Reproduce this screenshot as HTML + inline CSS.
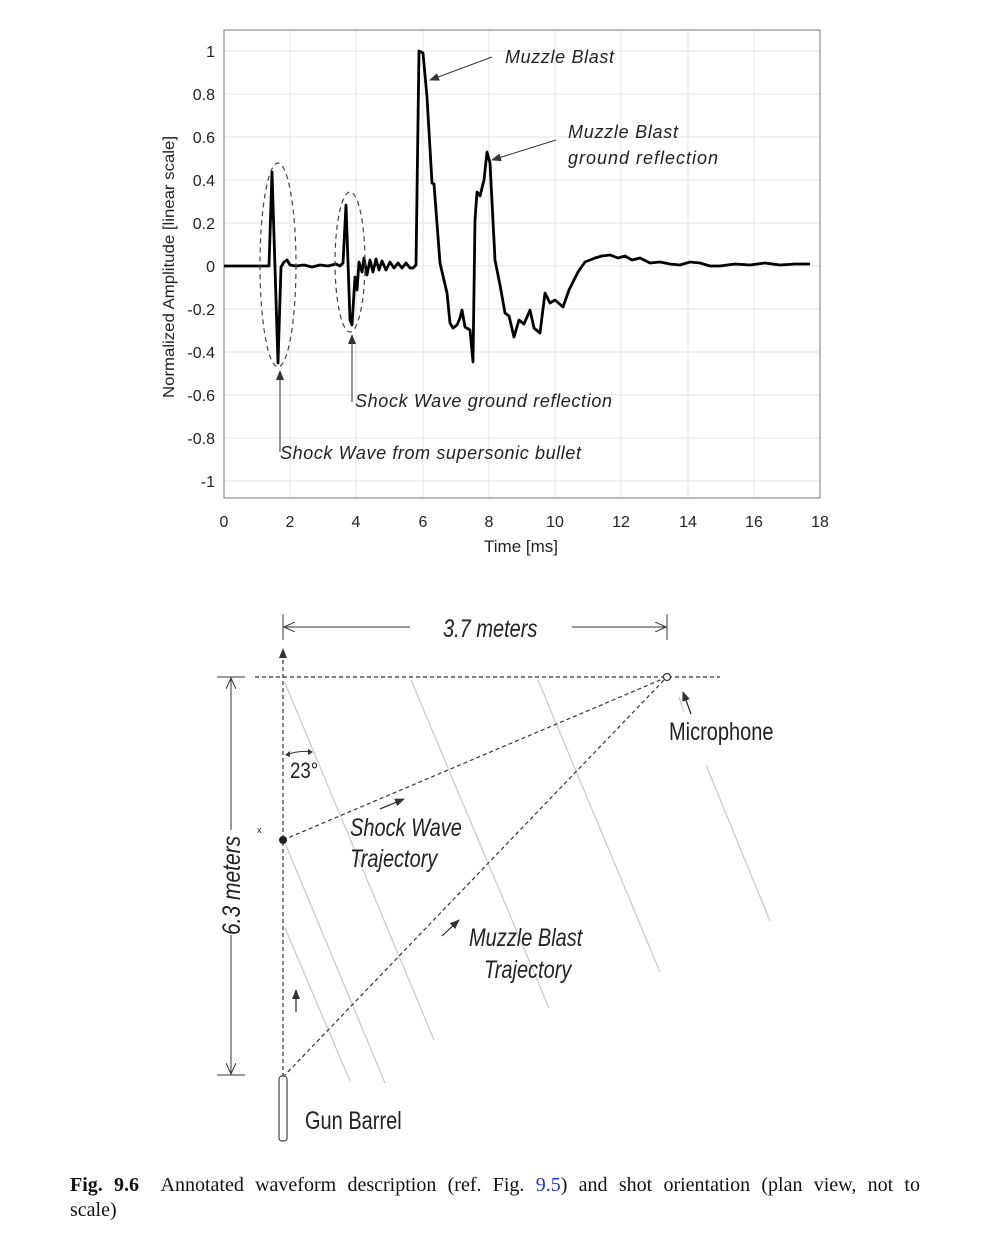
<!DOCTYPE html>
<html><head><meta charset="utf-8"><style>
body{margin:0;background:#fff;width:987px;height:1248px;overflow:hidden;position:relative}
svg{position:absolute;left:0;top:0}
.cap{position:absolute;left:70px;width:850px;font:20px "Liberation Serif",serif;line-height:25px;color:#111}
.l1{top:1173px;text-align:justify;text-align-last:justify}
.l2{top:1198px}
</style></head><body>
<svg width="987" height="1248" viewBox="0 0 987 1248" xmlns="http://www.w3.org/2000/svg">
<defs>
<marker id="ah" markerWidth="10" markerHeight="8" refX="9" refY="4" orient="auto" markerUnits="userSpaceOnUse"><path d="M0,0 L10,4 L0,8 z" fill="#333"/></marker>
<marker id="oa" markerWidth="12" markerHeight="10" refX="11" refY="5" orient="auto" markerUnits="userSpaceOnUse"><path d="M0,0 L11,5 L0,10" fill="none" stroke="#333" stroke-width="1"/></marker>
</defs>
<g stroke="#e3e3e3" stroke-width="1">
<line x1="290" y1="30" x2="290" y2="498"/><line x1="356" y1="30" x2="356" y2="498"/><line x1="423" y1="30" x2="423" y2="498"/><line x1="489" y1="30" x2="489" y2="498"/><line x1="555" y1="30" x2="555" y2="498"/><line x1="621" y1="30" x2="621" y2="498"/><line x1="688" y1="30" x2="688" y2="498"/><line x1="754" y1="30" x2="754" y2="498"/>
<line x1="224" y1="51" x2="820" y2="51"/><line x1="224" y1="94" x2="820" y2="94"/><line x1="224" y1="137" x2="820" y2="137"/><line x1="224" y1="180" x2="820" y2="180"/><line x1="224" y1="223" x2="820" y2="223"/><line x1="224" y1="266" x2="820" y2="266"/><line x1="224" y1="309" x2="820" y2="309"/><line x1="224" y1="352" x2="820" y2="352"/><line x1="224" y1="395" x2="820" y2="395"/><line x1="224" y1="438" x2="820" y2="438"/><line x1="224" y1="481" x2="820" y2="481"/>
</g>
<rect x="224" y="30" width="596" height="468" fill="none" stroke="#777" stroke-width="1"/>
<g font-family="Liberation Sans, sans-serif" font-size="16" fill="#222" text-anchor="end">
<text x="215" y="57">1</text><text x="215" y="100">0.8</text><text x="215" y="143">0.6</text><text x="215" y="186">0.4</text><text x="215" y="229">0.2</text><text x="215" y="272">0</text><text x="215" y="315">-0.2</text><text x="215" y="358">-0.4</text><text x="215" y="401">-0.6</text><text x="215" y="444">-0.8</text><text x="215" y="487">-1</text>
</g>
<g font-family="Liberation Sans, sans-serif" font-size="16" fill="#222" text-anchor="middle">
<text x="224" y="527">0</text><text x="290" y="527">2</text><text x="356" y="527">4</text><text x="423" y="527">6</text><text x="489" y="527">8</text><text x="555" y="527">10</text><text x="621" y="527">12</text><text x="688" y="527">14</text><text x="754" y="527">16</text><text x="820" y="527">18</text>
<text x="521" y="552" font-size="17">Time [ms]</text>
<text transform="translate(174,267) rotate(-90)" font-size="16" textLength="262" lengthAdjust="spacingAndGlyphs">Normalized Amplitude [linear scale]</text>
</g>
<path fill="none" stroke="#000" stroke-width="2.8" stroke-linejoin="round" d="M224,266 L269,266 L272,172 L278,363 L281,267 L284,262 L287,260 L290,265 L296,266 L304,265 L312,267 L320,265 L328,266 L336,264 L340,266 L343,263 L346,205 L350,320 L352,325 L355,277 L357,290 L359,262 L362,272 L364,258 L367,275 L370,260 L373,272 L376,259 L379,270 L382,261 L386,270 L390,262 L394,268 L398,263 L402,268 L406,263 L410,268 L413,268 L416,265 L419,51 L423,53 L427,97 L432,183 L434,184 L440,263 L447,293 L450,323 L453,328 L457,325 L460,318 L462,310 L465,327 L470,330 L473,362 L475,220 L477,192 L480,196 L484,180 L487,152 L490,163 L495,260 L500,285 L505,313 L509,316 L514,337 L519,320 L524,324 L530,310 L534,328 L540,333 L545,293 L550,303 L555,300 L563,307 L569,290 L578,272 L585,262 L590,260 L595,258 L602,256 L610,255 L618,258 L625,256 L632,260 L640,258 L650,263 L660,262 L670,264 L680,265 L690,262 L700,263 L710,266 L720,266 L735,264 L750,265 L765,263 L780,265 L795,264 L810,264"/>
<g fill="none" stroke="#444" stroke-width="1.2" stroke-dasharray="5,4">
<ellipse cx="278" cy="265" rx="18" ry="102"/><ellipse cx="350" cy="262" rx="15" ry="70"/>
</g>
<g stroke="#333" stroke-width="1" marker-end="url(#ah)">
<line x1="492" y1="57" x2="430" y2="80"/><line x1="556" y1="140" x2="492" y2="160"/>
<line x1="280" y1="452" x2="280" y2="371"/><line x1="352" y1="402" x2="352" y2="335"/>
</g>
<g font-family="Liberation Sans, sans-serif" font-size="18" font-style="italic" fill="#222" lengthAdjust="spacingAndGlyphs">
<text x="505" y="63" textLength="109">Muzzle Blast</text><text x="568" y="138" textLength="110">Muzzle Blast</text><text x="568" y="164" textLength="150">ground reflection</text>
<text x="355" y="407" textLength="257">Shock Wave ground reflection</text><text x="280" y="459" textLength="301">Shock Wave from supersonic bullet</text>
</g>
<g stroke="#c8c8c8" stroke-width="1.2">
<line x1="285" y1="683" x2="434" y2="1040"/><line x1="411" y1="680" x2="549" y2="1008"/><line x1="538" y1="680" x2="660" y2="972"/><line x1="679" y1="697" x2="684" y2="712"/><line x1="706" y1="765" x2="770" y2="921"/><line x1="285" y1="843" x2="385" y2="1083"/><line x1="285" y1="928" x2="350" y2="1081"/>
</g>
<g stroke="#333" stroke-width="1.2" stroke-dasharray="4,3" fill="none">
<line x1="283" y1="1077" x2="283" y2="658"/><line x1="255" y1="677" x2="720" y2="677"/>
<line x1="283" y1="840" x2="665" y2="678"/><line x1="283" y1="1077" x2="665" y2="679"/>
</g>
<path d="M279,658 L283,648 L287,658 z" fill="#333"/>
<g stroke="#333" stroke-width="1">
<line x1="283" y1="614" x2="283" y2="640"/><line x1="667" y1="614" x2="667" y2="640"/>
<line x1="410" y1="627" x2="284" y2="627" marker-end="url(#oa)"/><line x1="572" y1="627" x2="666" y2="627" marker-end="url(#oa)"/>
<line x1="217" y1="677" x2="245" y2="677"/><line x1="217" y1="1075" x2="245" y2="1075"/>
<line x1="231" y1="830" x2="231" y2="678" marker-end="url(#oa)"/><line x1="231" y1="935" x2="231" y2="1074" marker-end="url(#oa)"/>
<path d="M286,755 Q299,750 312,752" fill="none"/>
</g>
<path d="M285,755 l5,-4 l0,6z M313,752 l-5,-3 l0,6z" fill="#333"/>
<g stroke="#222" stroke-width="1.2" marker-end="url(#ah)">
<line x1="380" y1="809" x2="404" y2="799"/><line x1="442" y1="936" x2="459" y2="920"/><line x1="296" y1="1012" x2="296" y2="990"/><line x1="691" y1="714" x2="683" y2="692"/>
</g>
<circle cx="283" cy="840" r="4" fill="#222"/>
<circle cx="667" cy="677" r="3.5" fill="#fff" stroke="#333" stroke-width="1.2"/>
<rect x="279" y="1076" width="8" height="65" rx="3" fill="#fff" stroke="#444" stroke-width="1.2"/>
<g font-family="Liberation Sans, sans-serif" fill="#222" font-size="25">
<text transform="translate(443,637) scale(0.8,1)" font-style="italic">3.7 meters</text>
<text transform="translate(240,935) rotate(-90) scale(0.84,1)" font-style="italic">6.3 meters</text>
<text transform="translate(669,740) scale(0.8,1)">Microphone</text>
<text transform="translate(290,778) scale(0.85,1)" font-size="22">23°</text>
<text transform="translate(350,836) scale(0.8,1)" font-style="italic">Shock Wave</text>
<text transform="translate(350,867) scale(0.8,1)" font-style="italic">Trajectory</text>
<text transform="translate(469,946) scale(0.8,1)" font-style="italic">Muzzle Blast</text>
<text transform="translate(484,978) scale(0.8,1)" font-style="italic">Trajectory</text>
<text transform="translate(305,1129) scale(0.8,1)">Gun Barrel</text>
<text x="257" y="833" font-size="9">x</text>
</g>
</svg>
<div class="cap l1"><b>Fig. 9.6</b>&nbsp; Annotated waveform description (ref. Fig. <span style="color:#2233cc">9.5</span>) and shot orientation (plan view, not to</div>
<div class="cap l2">scale)</div>
</body></html>
